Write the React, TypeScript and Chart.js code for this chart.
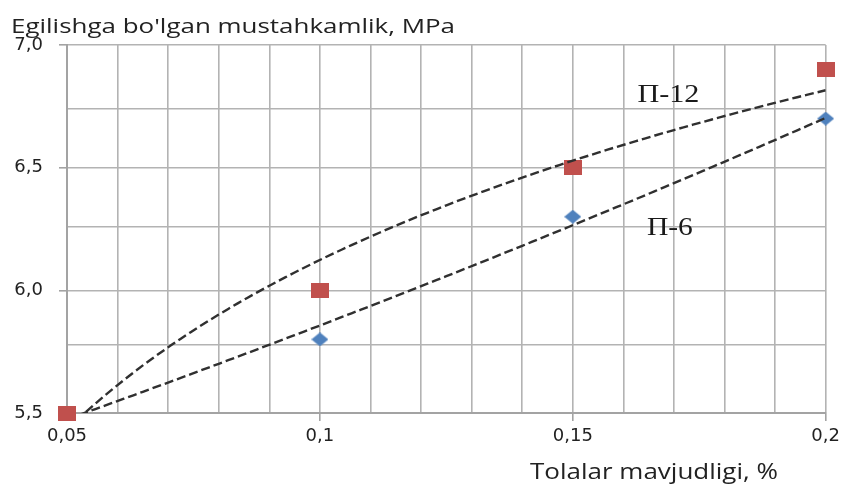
import { useEffect, useRef } from 'react';
import { Chart, registerables } from 'chart.js';

Chart.register(...registerables);

// ---- data ----
const fiberContent = [0.05, 0.1, 0.15, 0.2];
const strengthP12 = [5.5, 6.0, 6.5, 6.9];
const strengthP6 = [5.5, 5.8, 6.3, 6.7];
const seriesNames = ['П-12', 'П-6'];
const seriesLabelX = [0.1689, 0.1692];
const seriesLabelY = [6.8, 6.26];
const yGridValues = [5.5, 5.78, 6.0, 6.26, 6.5, 6.74, 7.0];
const yLabelValues = [5.5, 6.0, 6.5, 7.0];
const yTitle = "Egilishga bo'lgan mustahkamlik, MPa";
const xTitle = 'Tolalar mavjudligi, %';

const RED = '#C0504D';
const BLUE = '#4F81BD';
const GRID = '#b3b3b3';
const AXIS = '#a3a3a3';
const TEXT = '#222222';
const TREND = '#303030';

// Excel-style trend lines fitted from the data arrays
function logFit(xs: number[], ys: number[]) {
  const lx = xs.map((v) => Math.log(v));
  const n = xs.length;
  const mx = lx.reduce((a, b) => a + b, 0) / n;
  const my = ys.reduce((a, b) => a + b, 0) / n;
  let sxy = 0, sxx = 0;
  for (let i = 0; i < n; i++) { sxy += (lx[i] - mx) * (ys[i] - my); sxx += (lx[i] - mx) ** 2; }
  const b = sxy / sxx;
  const a = my - b * mx;
  return (x: number) => a + b * Math.log(x);
}
function expFit(xs: number[], ys: number[]) {
  const ly = ys.map((v) => Math.log(v));
  const n = xs.length;
  const mx = xs.reduce((a, b) => a + b, 0) / n;
  const my = ly.reduce((a, b) => a + b, 0) / n;
  let sxy = 0, sxx = 0;
  for (let i = 0; i < n; i++) { sxy += (xs[i] - mx) * (ly[i] - my); sxx += (xs[i] - mx) ** 2; }
  const b = sxy / sxx;
  const a = my - b * mx;
  return (x: number) => Math.exp(a + b * x);
}
function sampleCurve(f: (x: number) => number) {
  const lo = fiberContent[0];
  const hi = fiberContent[fiberContent.length - 1];
  const pts: { x: number; y: number }[] = [];
  const steps = 80;
  for (let i = 0; i <= steps; i++) {
    const x = lo + ((hi - lo) * i) / steps;
    pts.push({ x, y: f(x) });
  }
  return pts;
}

function makeRect(w: number, h: number, color: string) {
  const c = document.createElement('canvas');
  c.width = w; c.height = h;
  const g = c.getContext('2d')!;
  g.fillStyle = color;
  g.fillRect(0, 0, w, h);
  return c;
}
function makeDiamond(w: number, h: number, color: string) {
  const c = document.createElement('canvas');
  c.width = w; c.height = h;
  const g = c.getContext('2d')!;
  g.fillStyle = color;
  g.beginPath();
  g.moveTo(w / 2, 0);
  g.lineTo(w, h / 2);
  g.lineTo(w / 2, h);
  g.lineTo(0, h / 2);
  g.closePath();
  g.fill();
  return c;
}

function drawText(ctx: CanvasRenderingContext2D, text: string, x: number, y: number, width: number, font: string, align: 'left' | 'center') {
  ctx.save();
  ctx.font = font;
  ctx.textAlign = 'left';
  ctx.textBaseline = 'alphabetic';
  const w = ctx.measureText(text).width;
  const sx = width / w;
  ctx.translate(align === 'center' ? x - width / 2 : x, y);
  ctx.scale(sx, 1);
  ctx.fillText(text, 0, 0);
  ctx.restore();
}

const textPlugin = {
  id: 'chartTexts',
  afterDatasetsDraw(chart: any) {
    const { ctx, scales } = chart;
    const xs = scales.x;
    const ys = scales.y;
    ctx.save();
    ctx.fillStyle = '#1a1a1a';
    const serif = '26px "Liberation Serif", "Times New Roman", serif';
    const widths = [62, 46];
    seriesNames.forEach((name, i) => {
      drawText(ctx, name, xs.getPixelForValue(seriesLabelX[i]), ys.getPixelForValue(seriesLabelY[i]) + 8, widths[i], serif, 'center');
    });
    ctx.fillStyle = TEXT;
    drawText(ctx, yTitle, 11, 33, 444, '500 20px "Open Sans", sans-serif', 'left');
    drawText(ctx, xTitle, 530, 479, 248, '500 22px "Open Sans", sans-serif', 'left');
    ctx.restore();
  },
};

export default function App() {
  const ref = useRef<HTMLCanvasElement | null>(null);

  useEffect(() => {
    document.body.style.margin = '0';
    const canvas = ref.current;
    if (!canvas) return;
    const fit12 = logFit(fiberContent, strengthP12);
    const fit6 = expFit(fiberContent, strengthP6);
    const squareMark = makeRect(18, 15, RED);
    const diamondMark = makeDiamond(17, 14, BLUE);

    const chart = new Chart(canvas, {
      type: 'scatter',
      data: {
        datasets: [
          {
            label: 'trend П-12',
            data: sampleCurve(fit12),
            showLine: true,
            borderColor: TREND,
            borderWidth: 2.4,
            borderDash: [9, 4],
            pointRadius: 0,
            fill: false,
            tension: 0,
            order: 0,
          },
          {
            label: 'trend П-6',
            data: sampleCurve(fit6),
            showLine: true,
            borderColor: TREND,
            borderWidth: 2.4,
            borderDash: [9, 4],
            pointRadius: 0,
            fill: false,
            tension: 0,
            order: 0,
          },
          {
            label: seriesNames[0],
            data: fiberContent.map((x, i) => ({ x, y: strengthP12[i] })),
            pointStyle: squareMark,
            pointRadius: 9,
            showLine: false,
            clip: false,
            order: 1,
          },
          {
            label: seriesNames[1],
            data: fiberContent.map((x, i) => ({ x, y: strengthP6[i] })),
            pointStyle: diamondMark,
            pointRadius: 8,
            showLine: false,
            clip: false,
            order: 2,
          },
        ],
      },
      options: {
        animation: false,
        responsive: false,
        layout: { padding: { left: 0, right: 16, top: 45, bottom: 0 } },
        plugins: {
          legend: { display: false },
          title: { display: false },
          tooltip: { enabled: false },
        },
        scales: {
          x: {
            type: 'linear',
            min: fiberContent[0],
            max: fiberContent[fiberContent.length - 1],
            afterFit: (s: any) => { s.height = 71; },
            border: { display: true, color: AXIS, width: 2 },
            grid: {
              color: GRID,
              lineWidth: 1.6,
              tickLength: 8,
              tickWidth: 1.6,
              tickColor: (c: any) => (Math.round(c.tick.value * 100) % 5 === 0 ? AXIS : 'transparent'),
            },
            ticks: {
              stepSize: 0.01,
              autoSkip: false,
              maxRotation: 0,
              padding: 5,
              color: TEXT,
              font: { family: '"DejaVu Sans", sans-serif', size: 18 },
              callback: (v: any) => {
                const r = Math.round(Number(v) * 100);
                return r % 5 === 0 ? String(r / 100).replace('.', ',') : '';
              },
            },
          },
          y: {
            type: 'linear',
            min: yLabelValues[0],
            max: yLabelValues[yLabelValues.length - 1],
            afterFit: (s: any) => { s.width = 67; },
            afterBuildTicks: (s: any) => { s.ticks = yGridValues.map((value) => ({ value })); },
            border: { display: true, color: AXIS, width: 2 },
            grid: {
              color: GRID,
              lineWidth: 1.6,
              tickLength: 8,
              tickWidth: 1.6,
              tickColor: (c: any) => (yLabelValues.includes(c.tick.value) ? AXIS : 'transparent'),
            },
            ticks: {
              autoSkip: false,
              padding: 16,
              color: TEXT,
              font: { family: '"DejaVu Sans", sans-serif', size: 18 },
              callback: (v: any) => (yLabelValues.includes(Number(v)) ? Number(v).toFixed(1).replace('.', ',') : ''),
            },
          },
        },
      },
      plugins: [textPlugin],
    } as any);

    return () => chart.destroy();
  }, []);

  return (
    <div style={{ width: 845, height: 484 }}>
      <canvas ref={ref} width={845} height={484} style={{ display: 'block' }} />
    </div>
  );
}
